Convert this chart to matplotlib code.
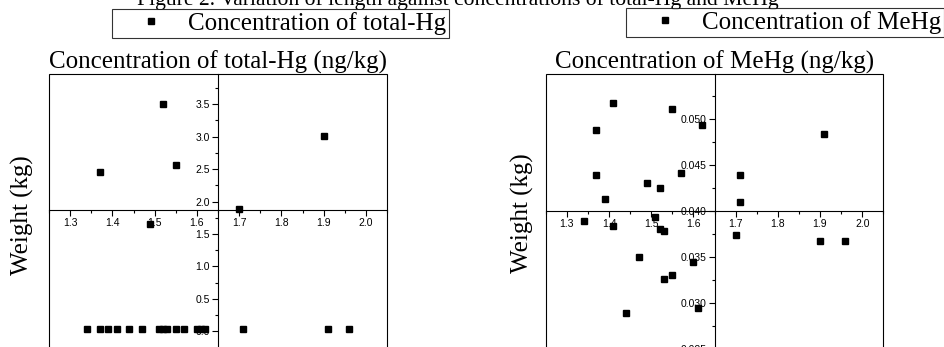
import matplotlib
matplotlib.use("Agg")
import matplotlib.pyplot as plt
from matplotlib.patches import Rectangle
from matplotlib.ticker import MultipleLocator, FormatStrFormatter

# total-Hg panel: weight (x) vs concentration (y)
thg_weight = [1.37, 1.52, 1.55, 1.49, 1.70, 1.90,
              1.34, 1.37, 1.39, 1.41, 1.44, 1.47, 1.51, 1.52, 1.53,
              1.55, 1.57, 1.60, 1.61, 1.62, 1.71, 1.91, 1.96]
thg_conc = [2.45, 3.51, 2.57, 1.65, 1.89, 3.01,
            0.04, 0.04, 0.04, 0.04, 0.04, 0.04, 0.04, 0.04, 0.04,
            0.04, 0.04, 0.04, 0.04, 0.04, 0.04, 0.04, 0.04]

# MeHg panel
mehg_weight = [1.41, 1.37, 1.37, 1.39, 1.34, 1.41, 1.49, 1.52, 1.55, 1.62,
               1.57, 1.51, 1.52, 1.53, 1.47, 1.60, 1.53, 1.55, 1.44, 1.61,
               1.71, 1.71, 1.91, 1.70, 1.90, 1.96]
mehg_conc = [0.0518, 0.0488, 0.0439, 0.0413, 0.0389, 0.0384, 0.0431, 0.0425,
             0.0511, 0.0494, 0.0441, 0.0394, 0.0380, 0.0378, 0.0350, 0.0345,
             0.0326, 0.0330, 0.0289, 0.0294, 0.0439, 0.0410, 0.0484, 0.0374,
             0.0367, 0.0367]

W, H = 944, 347
SERIF = "Liberation Serif"
SANS = "Liberation Sans"
FS = 18

fig = plt.figure(figsize=(W / 100, H / 100), dpi=100)


def px_axes(left, right, top, bottom):
    return fig.add_axes([left / W, 1 - bottom / H, (right - left) / W, (bottom - top) / H])


def style_panel(ax, xcross, ycross, ymajor, yminor, yfmt):
    ax.spines["left"].set_position(("data", xcross))
    ax.spines["bottom"].set_position(("data", ycross))
    ax.spines["top"].set_visible(False)
    ax.spines["right"].set_visible(False)
    for s in ("left", "bottom"):
        ax.spines[s].set_linewidth(0.8)
    ax.add_patch(Rectangle((0, 0), 1, 1, transform=ax.transAxes, fill=False,
                           lw=0.8, ec="black", clip_on=False, zorder=5))
    ax.xaxis.set_major_locator(MultipleLocator(0.1))
    ax.xaxis.set_minor_locator(MultipleLocator(0.05))
    ax.xaxis.set_major_formatter(FormatStrFormatter("%.1f"))
    ax.yaxis.set_major_locator(MultipleLocator(ymajor))
    ax.yaxis.set_minor_locator(MultipleLocator(yminor))
    ax.yaxis.set_major_formatter(FormatStrFormatter(yfmt))
    ax.tick_params(which="major", direction="out", length=4, width=0.8, pad=2,
                   labelsize=7.5, colors="black")
    ax.tick_params(which="minor", direction="out", length=2.5, width=0.8)
    for lab in ax.get_xticklabels() + ax.get_yticklabels():
        lab.set_fontfamily(SANS)
    ax.set_facecolor("none")


# left panel
ax1 = px_axes(49, 387, 74.3, 350.8)
ax1.plot(thg_weight, thg_conc, "ks", ms=4.4, ls="none", clip_on=False)
ax1.set_xlim(1.25, 2.05)
ax1.set_ylim(-0.3, 3.96)
style_panel(ax1, 1.65, 1.875, 0.5, 0.25, "%.1f")
ax1.set_title("Concentration of total-Hg (ng/kg)", fontsize=FS, family=SERIF, pad=1)
fig.text(22 / W, 1 - 215 / H, "Weight (kg)", rotation=90, ha="center", va="center",
         fontsize=FS, family=SERIF)

# right panel
ax2 = px_axes(545.7, 883.3, 74.3, 353.3)
ax2.plot(mehg_weight, mehg_conc, "ks", ms=4.4, ls="none", clip_on=False)
ax2.set_xlim(1.25, 2.05)
ax2.set_ylim(0.0245, 0.0549)
style_panel(ax2, 1.65, 0.040, 0.005, 0.0025, "%.3f")
ax2.set_title("Concentration of MeHg (ng/kg)", fontsize=FS, family=SERIF, pad=1)
fig.text(522 / W, 1 - 213 / H, "Weight (kg)", rotation=90, ha="center", va="center",
         fontsize=FS, family=SERIF)

# legends
leg_kw = dict(loc="upper left", frameon=True, fancybox=False,
              edgecolor="black", handlelength=2.9, handletextpad=0.0,
              borderpad=0.12, borderaxespad=0, markerscale=1.0)
l1 = fig.legend([ax1.lines[0]], ["Concentration of total-Hg"],
                bbox_to_anchor=(112 / W, 1 - 9 / H), prop={"family": SERIF, "size": FS},
                **leg_kw)
l2 = fig.legend([ax2.lines[0]], ["Concentration of MeHg"],
                bbox_to_anchor=(626 / W, 1 - 8 / H), prop={"family": SERIF, "size": FS},
                **leg_kw)
for leg in (l1, l2):
    leg.get_frame().set_linewidth(0.8)

# cut-off figure caption at the very top
fig.text(137 / W, 1 - 4.5 / H,
         "Figure 2. Variation of length against concentrations of total-Hg and MeHg",
         ha="left", va="baseline", fontsize=15.6, family=SERIF)

fig.savefig("out.png", dpi=100)
